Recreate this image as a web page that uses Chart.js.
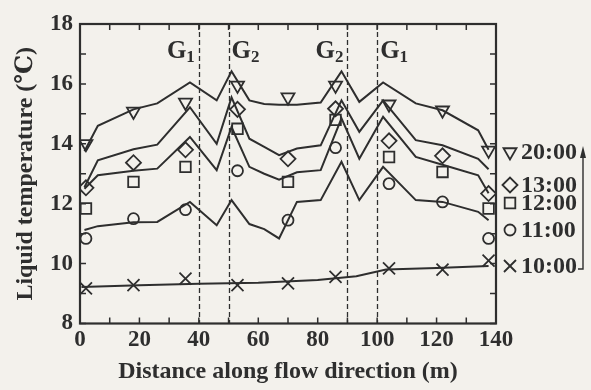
<!DOCTYPE html>
<html><head><meta charset="utf-8">
<script src="https://cdn.jsdelivr.net/npm/chart.js@4.4.1/dist/chart.umd.min.js"></script>
<style>html,body{margin:0;padding:0;background:#f3f1ec;}</style>
</head><body>
<canvas id="c" width="591" height="390"></canvas>
<script>
// ---- data ----
const xTicks = [0, 20, 40, 60, 80, 100, 120, 140];
const yTicks = [8, 10, 12, 14, 16, 18];
const seriesLabels = ['20:00', '13:00', '12:00', '11:00', '10:00'];
const gateNames = ['G', 'G', 'G', 'G'];
const gateSubs = ['1', '2', '2', '1'];
const gatePositions = [40, 50, 90, 100];

// simulated profiles (lines)
const modelX  = [1.5, 6, 18, 26, 37, 46, 51, 57, 62, 67, 73, 81, 88, 94, 102, 113, 122, 134, 137.5];
const model20 = [13.75, 14.6, 15.15, 15.35, 16.05, 15.45, 16.42, 15.45, 15.33, 15.3, 15.3, 15.38, 16.42, 15.4, 16.05, 15.35, 15.12, 14.45, 13.8];
const model13 = [12.55, 13.45, 13.82, 13.97, 15.22, 14.0, 15.55, 14.17, 13.9, 13.62, 13.84, 13.95, 15.45, 14.4, 15.45, 14.12, 13.95, 13.5, 13.15];
const model12 = [12.5, 12.95, 13.1, 13.17, 14.23, 13.12, 14.56, 13.23, 13.0, 12.8, 13.05, 13.12, 14.85, 13.5, 14.9, 13.56, 13.3, 12.95, 12.35];
const model11 = [11.12, 11.25, 11.38, 11.39, 12.06, 11.28, 12.12, 11.32, 11.15, 10.84, 12.06, 12.12, 13.4, 12.12, 13.23, 12.12, 12.06, 11.73, 11.45];
const model10X = [0.5, 20, 40, 60, 80, 93, 103, 120, 137.5];
const model10  = [9.22, 9.28, 9.33, 9.36, 9.45, 9.58, 9.8, 9.85, 9.92];

// measured values (markers)
const measX  = [2, 18, 35.5, 53, 70, 86, 104, 122, 137.5];
const meas20 = [14.0, 15.08, 15.38, 15.95, 15.56, 15.95, 15.32, 15.12, 13.78];
const meas13 = [12.53, 13.37, 13.8, 15.15, 13.5, 15.17, 14.1, 13.6, 12.34];
const meas12 = [11.84, 12.73, 13.23, 14.5, 12.73, 14.8, 13.56, 13.06, 11.84];
const meas11 = [10.84, 11.5, 11.8, 13.1, 11.45, 13.87, 12.67, 12.06, 10.84];
const meas10 = [9.17, 9.28, 9.5, 9.28, 9.34, 9.56, 9.84, 9.8, 10.1];

// ---- styling ----
const INK = '#2e2e2e';
const PAPER = '#f3f1ec';
const SERIF = '"Liberation Serif", "DejaVu Serif", serif';
const markerStyles = [
  {pointStyle: 'triangle', rotation: 180, radius: 7.5},
  {pointStyle: 'rectRot', rotation: 0, radius: 7.5},
  {pointStyle: 'rect', rotation: 0, radius: 7.5},
  {pointStyle: 'circle', rotation: 0, radius: 5.5},
  {pointStyle: 'crossRot', rotation: 0, radius: 8.5}
];
const legendRowY = [152, 185, 203, 230, 266];

const zip = (xs, ys) => xs.map((x, i) => ({x: x, y: ys[i]}));
const lineSet = (xs, ys) => ({
  data: zip(xs, ys), showLine: true, borderColor: INK, borderWidth: 2,
  pointRadius: 0, tension: 0, fill: false
});
const markSet = (label, ys, k) => ({
  label: label, data: zip(measX, ys), showLine: false,
  pointStyle: markerStyles[k].pointStyle, rotation: markerStyles[k].rotation,
  pointRadius: markerStyles[k].radius, pointBorderWidth: 1.8,
  pointBorderColor: INK, pointBackgroundColor: 'rgba(0,0,0,0)'
});

const datasets = [
  lineSet(modelX, model20), lineSet(modelX, model13), lineSet(modelX, model12),
  lineSet(modelX, model11), lineSet(model10X, model10),
  markSet(seriesLabels[0], meas20, 0), markSet(seriesLabels[1], meas13, 1),
  markSet(seriesLabels[2], meas12, 2), markSet(seriesLabels[3], meas11, 3),
  markSet(seriesLabels[4], meas10, 4)
];

function drawMarker(ctx, st, x, y) {
  ctx.save();
  ctx.strokeStyle = INK; ctx.fillStyle = 'rgba(0,0,0,0)'; ctx.lineWidth = 1.8;
  Chart.helpers.drawPoint(ctx, {pointStyle: st.pointStyle, rotation: st.rotation, radius: st.radius, borderWidth: 1.8}, x, y);
  ctx.restore();
}

const decor = {
  id: 'decor',
  beforeDraw(chart) {
    const ctx = chart.ctx;
    ctx.save(); ctx.fillStyle = PAPER; ctx.fillRect(0, 0, chart.width, chart.height); ctx.restore();
  },
  beforeDatasetsDraw(chart) {
    const ctx = chart.ctx, a = chart.chartArea, xs = chart.scales.x, ys = chart.scales.y;
    ctx.save();
    // gate dashed lines
    ctx.strokeStyle = INK; ctx.lineWidth = 1.3; ctx.setLineDash([5, 3]);
    gatePositions.forEach(g => {
      const px = Math.round(xs.getPixelForValue(g)) + 0.5;
      ctx.beginPath(); ctx.moveTo(px, a.top); ctx.lineTo(px, a.bottom); ctx.stroke();
    });
    ctx.setLineDash([]);
    // inward ticks
    ctx.lineWidth = 1.5;
    for (let v = xs.min; v <= xs.max; v += 10) {
      const px = xs.getPixelForValue(v);
      ctx.beginPath(); ctx.moveTo(px, a.bottom); ctx.lineTo(px, a.bottom - 6);
      ctx.moveTo(px, a.top); ctx.lineTo(px, a.top + 6); ctx.stroke();
    }
    for (let v = ys.min; v <= ys.max; v += 1) {
      const py = ys.getPixelForValue(v);
      ctx.beginPath(); ctx.moveTo(a.left, py); ctx.lineTo(a.left + 6, py);
      ctx.moveTo(a.right, py); ctx.lineTo(a.right - 6, py); ctx.stroke();
    }
    // frame
    ctx.lineWidth = 2.2;
    ctx.strokeRect(a.left, a.top, a.right - a.left, a.bottom - a.top);
    // gate labels
    ctx.fillStyle = INK; ctx.textBaseline = 'alphabetic';
    const big = 'bold 25px ' + SERIF, small = 'bold 17px ' + SERIF;
    gatePositions.forEach((g, i) => {
      const px = xs.getPixelForValue(g);
      ctx.font = big; const wG = ctx.measureText(gateNames[i]).width;
      ctx.font = small; const wS = ctx.measureText(gateSubs[i]).width;
      const leftSide = (i % 2 === 0);
      const x0 = leftSide ? px - 4 - wG - wS : px + 3;
      ctx.font = big; ctx.fillText(gateNames[i], x0, 58);
      ctx.font = small; ctx.fillText(gateSubs[i], x0 + wG, 62);
    });
    ctx.restore();
  },
  afterDraw(chart) {
    const ctx = chart.ctx;
    ctx.save();
    ctx.fillStyle = INK; ctx.textBaseline = 'middle'; ctx.textAlign = 'left';
    ctx.font = 'bold 24px ' + SERIF;
    let endX = 0;
    seriesLabels.forEach((lab, i) => {
      const y = legendRowY[i];
      drawMarker(ctx, markerStyles[i], 510, y);
      ctx.fillText(lab, 521, y + 1);
      if (i === seriesLabels.length - 1) endX = 521 + ctx.measureText(lab).width;
    });
    // arrow
    const yb = legendRowY[4] + 3, ax = 583;
    ctx.strokeStyle = INK; ctx.lineWidth = 1.4;
    ctx.beginPath(); ctx.moveTo(endX + 1, yb); ctx.lineTo(ax, yb); ctx.lineTo(ax, 152); ctx.stroke();
    ctx.beginPath(); ctx.moveTo(ax - 3, 158); ctx.lineTo(ax, 146); ctx.lineTo(ax + 3, 158); ctx.closePath(); ctx.fill();
    ctx.restore();
  }
};

new Chart(document.getElementById('c'), {
  type: 'scatter',
  data: {datasets: datasets},
  plugins: [decor],
  options: {
    responsive: false, animation: false, devicePixelRatio: 1,
    layout: {padding: {left: 0, top: 24, right: 95, bottom: 0}},
    plugins: {legend: {display: false}, tooltip: {enabled: false}},
    scales: {
      x: {
        type: 'linear', min: 0, max: 140,
        afterBuildTicks: s => { s.ticks = xTicks.map(v => ({value: v})); },
        afterFit: s => { s.height = 66.5; },
        grid: {display: false, drawTicks: false}, border: {display: false},
        ticks: {color: INK, padding: 3, font: {family: SERIF, size: 23, weight: 'bold', lineHeight: 1.2}, maxRotation: 0},
        title: {display: true, text: 'Distance along flow direction (m)', color: INK,
                padding: {top: 0, bottom: 4}, font: {family: SERIF, size: 24, weight: 'bold', lineHeight: 1.2}}
      },
      y: {
        type: 'linear', min: 8, max: 18,
        afterBuildTicks: s => { s.ticks = yTicks.map(v => ({value: v})); },
        afterFit: s => { s.width = 80; },
        grid: {display: false, drawTicks: false}, border: {display: false},
        ticks: {color: INK, padding: 7, font: {family: SERIF, size: 23, weight: 'bold', lineHeight: 1.2}},
        title: {display: true, text: 'Liquid temperature (℃)', color: INK,
                padding: {top: 11, bottom: 0}, font: {family: SERIF, size: 24, weight: 'bold', lineHeight: 1.2}}
      }
    }
  }
});
</script>
</body></html>
